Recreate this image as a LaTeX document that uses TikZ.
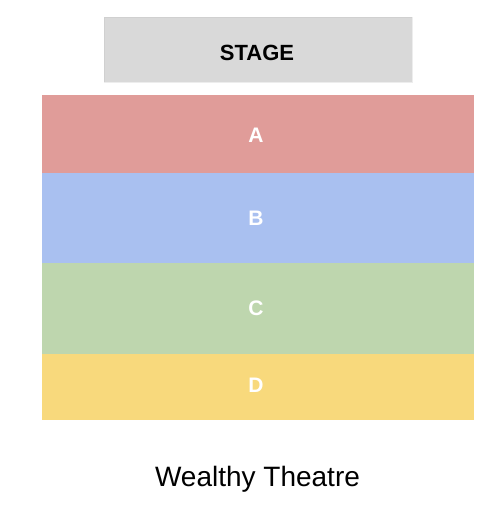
\documentclass[tikz,border=0pt]{standalone}
\usepackage{fontspec}
\setmainfont{Liberation Sans}
\begin{document}
\begin{tikzpicture}[x=1pt,y=-1pt,
  section/.style={draw=none,inner sep=0pt},
  lbl/.style={text=white,font=\fontsize{21}{22}\selectfont\bfseries},
]
\definecolor{stagegray}{RGB}{217,217,217}
\definecolor{secA}{RGB}{224,156,153}
\definecolor{secB}{RGB}{169,192,240}
\definecolor{secC}{RGB}{190,214,174}
\definecolor{secD}{RGB}{248,217,124}
\useasboundingbox[fill=white] (0,0) rectangle (502,508);
\fill[stagegray] (104,17) rectangle (412,82);
\draw[stagegray!85!black,line width=0.4pt,opacity=0.25] (104,17) rectangle (412,82);
\node[font=\fontsize{22}{24}\selectfont\bfseries] (stage) at (257,52.5) {STAGE};
\fill[secA] (42,95) rectangle (474,173);
\fill[secB] (42,173) rectangle (474,263);
\fill[secC] (42,263) rectangle (474,354);
\fill[secD] (42,354) rectangle (474,420);
\node[lbl] (a) at (256,135) {A};
\node[lbl] (b) at (256,218) {B};
\node[lbl] (c) at (256,308) {C};
\node[lbl] (d) at (256,385) {D};
\node[font=\fontsize{28}{30}\selectfont,anchor=base] (title) at (257.5,486) {Wealthy Theatre};
\end{tikzpicture}
\end{document}
